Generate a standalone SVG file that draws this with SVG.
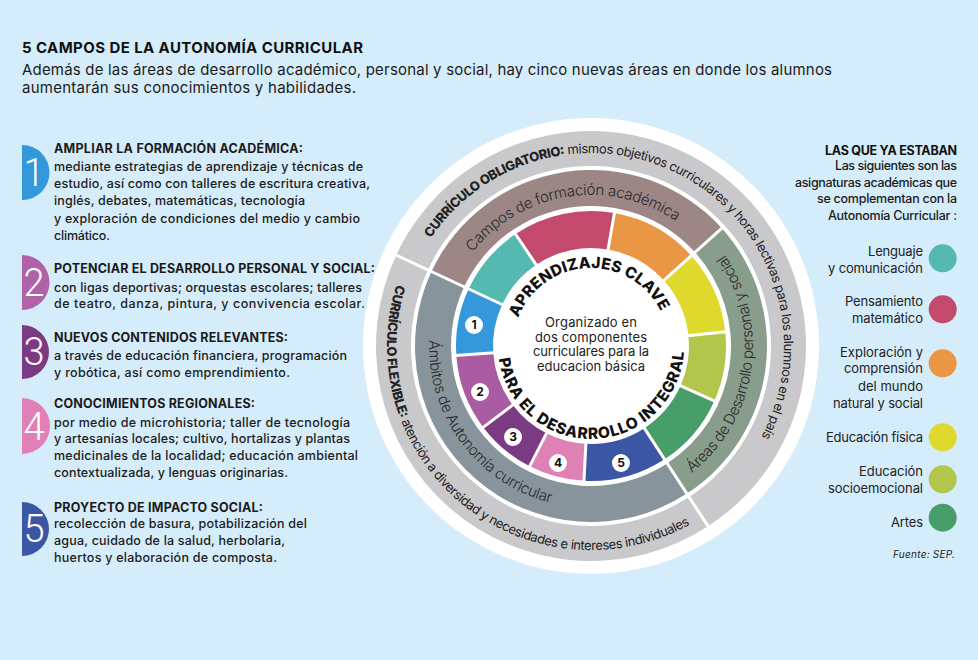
<svg xmlns="http://www.w3.org/2000/svg" xmlns:xlink="http://www.w3.org/1999/xlink" width="978" height="660" viewBox="0 0 978 660">
<defs>
<style>
.h{font-family:Inter,"Liberation Sans",Arial,sans-serif;font-weight:700;font-size:12.5px;fill:#1b1b1b}
.b{font-family:Inter,"Liberation Sans",Arial,sans-serif;font-weight:500;font-size:12.5px;fill:#1b1b1b}
.num{font-family:Roboto,"DejaVu Sans",sans-serif;font-weight:300;font-size:38px;fill:#ffffff;text-anchor:middle}
.lg{font-family:Inter,"Liberation Sans",Arial,sans-serif;font-weight:400;font-size:13px;fill:#222;text-anchor:end}
.rh{font-family:Inter,"Liberation Sans",Arial,sans-serif;font-weight:500;font-size:12.5px;fill:#1b1b1b;text-anchor:end}
.rhb{font-family:Inter,"Liberation Sans",Arial,sans-serif;font-weight:700;font-size:12.5px;fill:#111;text-anchor:end}
.ring{font-family:Inter,"Liberation Sans",Arial,sans-serif;font-weight:400;font-size:13px;fill:#222}
.mid{font-family:Inter,"Liberation Sans",Arial,sans-serif;font-weight:300;font-size:15px;fill:#2a2a2a}
.big{font-family:Inter,"Liberation Sans",Arial,sans-serif;font-weight:800;font-size:15.5px;fill:#111}
.ctr{font-family:Inter,"Liberation Sans",Arial,sans-serif;font-weight:400;font-size:13px;fill:#222;text-anchor:middle}
.badge{font-family:Inter,"Liberation Sans",Arial,sans-serif;font-weight:700;font-size:12px;fill:#111;text-anchor:middle}
.sep{stroke:#ffffff;stroke-width:3;fill:none}
</style>
<path id="pObl" d="M 417.53 261.39 A 193 193 0 1 1 747.14 459.45"/>
<path id="pFlex" d="M 413.01 246.33 A 204 204 0 0 0 724.17 500.55"/>
<path id="pCampos" d="M 450.36 291.04 A 151 151 0 0 1 708.90 251.66"/>
<path id="pAreas" d="M 650.11 496.84 A 162 162 0 0 0 692.07 219.40"/>
<path id="pAmb" d="M 442.22 281.93 A 162 162 0 0 0 609.91 506.90"/>
<path id="pApr" d="M 513.63 336.02 A 78 78 0 0 1 667.10 328.92"/>
<path id="pPara" d="M 498.12 341.29 A 93 93 0 1 0 683.29 334.51"/>
</defs>

<rect x="0" y="0" width="978" height="660" fill="#d5ecfa"/>

<g id="title">
<text x="22" y="53" font-family="Inter,'Liberation Sans',Arial,sans-serif" font-weight="700" font-size="15" fill="#111" textLength="341">5 CAMPOS DE LA AUTONOMÍA CURRICULAR</text>
<text x="22" y="75" font-family="Inter,'Liberation Sans',Arial,sans-serif" font-weight="400" font-size="15" fill="#1b1b1b" textLength="810">Además de las áreas de desarrollo académico, personal y social, hay cinco nuevas áreas en donde los alumnos</text>
<text x="22" y="93" font-family="Inter,'Liberation Sans',Arial,sans-serif" font-weight="400" font-size="15" fill="#1b1b1b" textLength="334">aumentarán sus conocimientos y habilidades.</text>
</g>

<g id="item-1">
<path d="M 22 145 A 27.5 27.5 0 0 1 22 200 Z" fill="#3398da"/>
<text class="num" x="34" y="186">1</text>
<text class="h" x="54" y="153" textLength="249">AMPLIAR LA FORMACIÓN ACADÉMICA:</text>
<text class="b" x="54" y="170.5" textLength="309">mediante estrategias de aprendizaje y técnicas de</text>
<text class="b" x="54" y="188" textLength="316">estudio, así como con talleres de escritura creativa,</text>
<text class="b" x="54" y="205" textLength="251">inglés, debates, matemáticas, tecnología</text>
<text class="b" x="54" y="222.5" textLength="306">y exploración de condiciones del medio y cambio</text>
<text class="b" x="54" y="239.5" textLength="56">climático.</text>
</g>

<g id="item-2">
<path d="M 22 255 A 27.5 27.5 0 0 1 22 310 Z" fill="#b062a8"/>
<text class="num" x="34" y="296">2</text>
<text class="h" x="54" y="273.3" textLength="321">POTENCIAR EL DESARROLLO PERSONAL Y SOCIAL:</text>
<text class="b" x="54" y="291.5" textLength="308">con ligas deportivas; orquestas escolares; talleres</text>
<text class="b" x="54" y="308.3" textLength="311">de teatro, danza, pintura, y convivencia escolar.</text>
</g>

<g id="item-3">
<path d="M 22 325 A 27 27 0 0 1 22 379 Z" fill="#7b3b82"/>
<text class="num" x="34" y="365">3</text>
<text class="h" x="54" y="341.7" textLength="234">NUEVOS CONTENIDOS RELEVANTES:</text>
<text class="b" x="54" y="360" textLength="293">a través de educación financiera, programación</text>
<text class="b" x="54" y="376.7" textLength="236">y robótica, así como emprendimiento.</text>
</g>

<g id="item-4">
<path d="M 22 398 A 28 28 0 0 1 22 454 Z" fill="#e080b6"/>
<text class="num" x="34" y="440">4</text>
<text class="h" x="54" y="408.3" textLength="201">CONOCIMIENTOS REGIONALES:</text>
<text class="b" x="54" y="426.7" textLength="296">por medio de microhistoria; taller de tecnología</text>
<text class="b" x="54" y="443.3" textLength="296">y artesanías locales; cultivo, hortalizas y plantas</text>
<text class="b" x="54" y="460" textLength="304">medicinales de la localidad; educación ambiental</text>
<text class="b" x="54" y="476.7" textLength="234">contextualizada, y lenguas originarias.</text>
</g>

<g id="item-5">
<path d="M 22 502 A 27 27 0 0 1 22 556 Z" fill="#3b56a5"/>
<text class="num" x="34" y="542">5</text>
<text class="h" x="54" y="511.7" textLength="209">PROYECTO DE IMPACTO SOCIAL:</text>
<text class="b" x="54" y="528.3" textLength="253">recolección de basura, potabilización del</text>
<text class="b" x="54" y="545" textLength="231">agua, cuidado de la salud, herbolaria,</text>
<text class="b" x="54" y="561.7" textLength="223">huertos y elaboración de composta.</text>
</g>

<g id="wheel-base">
<circle cx="591" cy="346" r="228" fill="#ffffff"/>
</g>

<g id="ring-curriculo-obligatorio">
<path d="M 396.15 255.14 A 215 215 0 1 1 708.09 526.32 L 689.03 496.97 A 180 180 0 1 0 427.87 269.93 Z" fill="#c9c9cb"/>
<text class="ring"><textPath href="#pObl" xlink:href="#pObl" startOffset="50%" text-anchor="middle" textLength="586"><tspan font-weight="800">CURRÍCULO OBLIGATORIO:</tspan> mismos objetivos curriculares y horas lectivas para los alumnos en el país</textPath></text>
</g>

<g id="ring-curriculo-flexible">
<path d="M 708.09 526.32 A 215 215 0 0 1 396.15 255.14 L 427.87 269.93 A 180 180 0 0 0 689.03 496.97 Z" fill="#c9c9cb"/>
<text class="ring"><textPath href="#pFlex" xlink:href="#pFlex" startOffset="50%" text-anchor="middle" textLength="486"><tspan font-weight="800">CURRÍCULO FLEXIBLE:</tspan> atención a diversidad y necesidades e intereses individuales</textPath></text>
</g>

<g id="campos-formacion">
<path d="M 431.49 271.62 A 176 176 0 0 1 721.79 228.24 L 695.03 252.33 A 140 140 0 0 0 464.12 286.84 Z" fill="#9c8786"/>
<text class="mid"><textPath href="#pCampos" xlink:href="#pCampos" startOffset="50%" text-anchor="middle" textLength="226">Campos de formación académica</textPath></text>
</g>

<g id="areas-desarrollo">
<path d="M 721.79 228.24 A 176 176 0 0 1 686.85 493.61 L 667.24 463.42 A 140 140 0 0 0 695.03 252.33 Z" fill="#889d8b"/>
<text class="mid"><textPath href="#pAreas" xlink:href="#pAreas" startOffset="50%" text-anchor="middle" textLength="243">Áreas de Desarrollo personal y social</textPath></text>
</g>

<g id="ambitos-autonomia">
<path d="M 686.85 493.61 A 176 176 0 0 1 431.49 271.62 L 464.12 286.84 A 140 140 0 0 0 667.24 463.42 Z" fill="#87949c"/>
<text class="mid"><textPath href="#pAmb" xlink:href="#pAmb" startOffset="50%" text-anchor="middle" textLength="219">Ámbitos de Autonomía curricular</textPath></text>
</g>

<g id="segments-academicos">
<path id="seg-lenguaje" d="M 468.65 288.95 A 135 135 0 0 1 515.51 234.08 L 536.20 264.76 A 98 98 0 0 0 502.18 304.59 Z" fill="#55b9b1"/>
<path id="seg-pensamiento" d="M 515.51 234.08 A 135 135 0 0 1 614.44 213.05 L 608.01 249.49 A 98 98 0 0 0 536.20 264.76 Z" fill="#c34a6c"/>
<path id="seg-exploracion" d="M 614.44 213.05 A 135 135 0 0 1 691.32 255.67 L 663.82 280.43 A 98 98 0 0 0 608.01 249.49 Z" fill="#e99745"/>
</g>

<g id="segments-desarrollo">
<path id="seg-fisica" d="M 691.32 255.67 A 135 135 0 0 1 725.26 331.89 L 688.46 335.76 A 98 98 0 0 0 663.82 280.43 Z" fill="#dfd92e"/>
<path id="seg-socioemocional" d="M 725.26 331.89 A 135 135 0 0 1 714.32 400.90 L 680.52 385.86 A 98 98 0 0 0 688.46 335.76 Z" fill="#b2c64c"/>
<path id="seg-artes" d="M 714.32 400.90 A 135 135 0 0 1 664.52 459.22 L 644.37 428.19 A 98 98 0 0 0 680.52 385.86 Z" fill="#489e69"/>
</g>

<g id="segments-autonomia">
<path id="seg-5" d="M 664.52 459.22 A 135 135 0 0 1 583.94 480.81 L 585.87 443.86 A 98 98 0 0 0 644.37 428.19 Z" fill="#3b56a5"/>
<path id="seg-4" d="M 583.94 480.81 A 135 135 0 0 1 529.71 466.29 L 546.51 433.32 A 98 98 0 0 0 585.87 443.86 Z" fill="#de82b5"/>
<path id="seg-3" d="M 529.71 466.29 A 135 135 0 0 1 483.19 427.24 L 512.74 404.98 A 98 98 0 0 0 546.51 433.32 Z" fill="#7b3b82"/>
<path id="seg-2" d="M 483.19 427.24 A 135 135 0 0 1 456.32 355.42 L 493.24 352.84 A 98 98 0 0 0 512.74 404.98 Z" fill="#a95ca2"/>
<path id="seg-1" d="M 456.32 355.42 A 135 135 0 0 1 468.65 288.95 L 502.18 304.59 A 98 98 0 0 0 493.24 352.84 Z" fill="#3498da"/>
</g>

<g id="separators">
<line class="sep" x1="503.09" y1="305.01" x2="395.24" y2="254.72"/>
<line class="sep" x1="643.83" y1="427.35" x2="708.63" y2="527.16"/>
<line class="sep" x1="663.08" y1="281.10" x2="722.53" y2="227.57"/>
<line class="sep" x1="536.76" y1="265.59" x2="514.95" y2="233.26"/>
<line class="sep" x1="607.84" y1="250.47" x2="614.62" y2="212.07"/>
<line class="sep" x1="687.47" y1="335.86" x2="726.25" y2="331.79"/>
<line class="sep" x1="679.61" y1="385.45" x2="715.24" y2="401.31"/>
<line class="sep" x1="585.93" y1="442.86" x2="583.89" y2="481.81"/>
<line class="sep" x1="546.96" y1="432.43" x2="529.26" y2="467.18"/>
<line class="sep" x1="513.54" y1="404.37" x2="482.39" y2="427.84"/>
<line class="sep" x1="494.23" y1="352.77" x2="455.33" y2="355.49"/>
</g>

<g id="badges">
<g id="badge-1"><circle cx="474" cy="325" r="9" fill="#fff"/><text class="badge" x="474" y="329.3">1</text></g>
<g id="badge-2"><circle cx="480" cy="392" r="9" fill="#fff"/><text class="badge" x="480" y="396.3">2</text></g>
<g id="badge-3"><circle cx="513" cy="437" r="9" fill="#fff"/><text class="badge" x="513" y="441.3">3</text></g>
<g id="badge-4"><circle cx="558" cy="463" r="9" fill="#fff"/><text class="badge" x="558" y="467.3">4</text></g>
<g id="badge-5"><circle cx="621" cy="463" r="9" fill="#fff"/><text class="badge" x="621" y="467.3">5</text></g>
</g>

<g id="center">
<text class="big"><textPath href="#pApr" xlink:href="#pApr" startOffset="50%" text-anchor="middle" textLength="180">APRENDIZAJES CLAVE</textPath></text>
<text class="big"><textPath href="#pPara" xlink:href="#pPara" startOffset="50%" text-anchor="middle" textLength="273">PARA EL DESARROLLO INTEGRAL</textPath></text>
<text class="ctr" x="591" y="327" textLength="92">Organizado en</text>
<text class="ctr" x="591" y="341.5" textLength="112">dos componentes</text>
<text class="ctr" x="591" y="356" textLength="116">curriculares para la</text>
<text class="ctr" x="591" y="370.5" textLength="108">educacion básica</text>
</g>

<g id="legend-header">
<text class="rhb" x="957" y="155" textLength="132">LAS QUE YA ESTABAN</text>
<text class="rh" x="957" y="170" textLength="122">Las siguientes son las</text>
<text class="rh" x="957" y="186.7" textLength="162">asignaturas académicas que</text>
<text class="rh" x="957" y="203" textLength="140">se complementan con la</text>
<text class="rh" x="957" y="220" textLength="129">Autonomía Curricular :</text>
</g>

<g id="legend-lenguaje">
<circle cx="942.7" cy="258.3" r="14" fill="#55b9b1"/>
<text class="lg" x="923" y="256" textLength="55">Lenguaje</text>
<text class="lg" x="923" y="272.7" textLength="95">y comunicación</text>
</g>
<g id="legend-pensamiento">
<circle cx="942.7" cy="309.3" r="14" fill="#c34a6c"/>
<text class="lg" x="923" y="306" textLength="78">Pensamiento</text>
<text class="lg" x="923" y="322.7" textLength="71">matemático</text>
</g>
<g id="legend-exploracion">
<circle cx="942.7" cy="363.3" r="14" fill="#e99745"/>
<text class="lg" x="923" y="356.7" textLength="83">Exploración y</text>
<text class="lg" x="923" y="373.3" textLength="79">comprensión</text>
<text class="lg" x="923" y="390.7" textLength="65">del mundo</text>
<text class="lg" x="923" y="407.7" textLength="90">natural y social</text>
</g>
<g id="legend-fisica">
<circle cx="942.7" cy="437.3" r="14" fill="#dfd92e"/>
<text class="lg" x="923" y="441.7" textLength="97">Educación física</text>
</g>
<g id="legend-socioemocional">
<circle cx="942.7" cy="479.3" r="14" fill="#b2c64c"/>
<text class="lg" x="923" y="475.7" textLength="64">Educación</text>
<text class="lg" x="923" y="492.7" textLength="95">socioemocional</text>
</g>
<g id="legend-artes">
<circle cx="942.7" cy="517.7" r="14" fill="#489e69"/>
<text class="lg" x="923" y="526.7" textLength="32">Artes</text>
</g>
<g id="source">
<text x="955" y="558.3" font-family="Inter,'Liberation Sans',Arial,sans-serif" font-style="italic" font-size="10" fill="#222" text-anchor="end" textLength="62">Fuente: SEP.</text>
</g>

<g id="connectors"/>
</svg>
